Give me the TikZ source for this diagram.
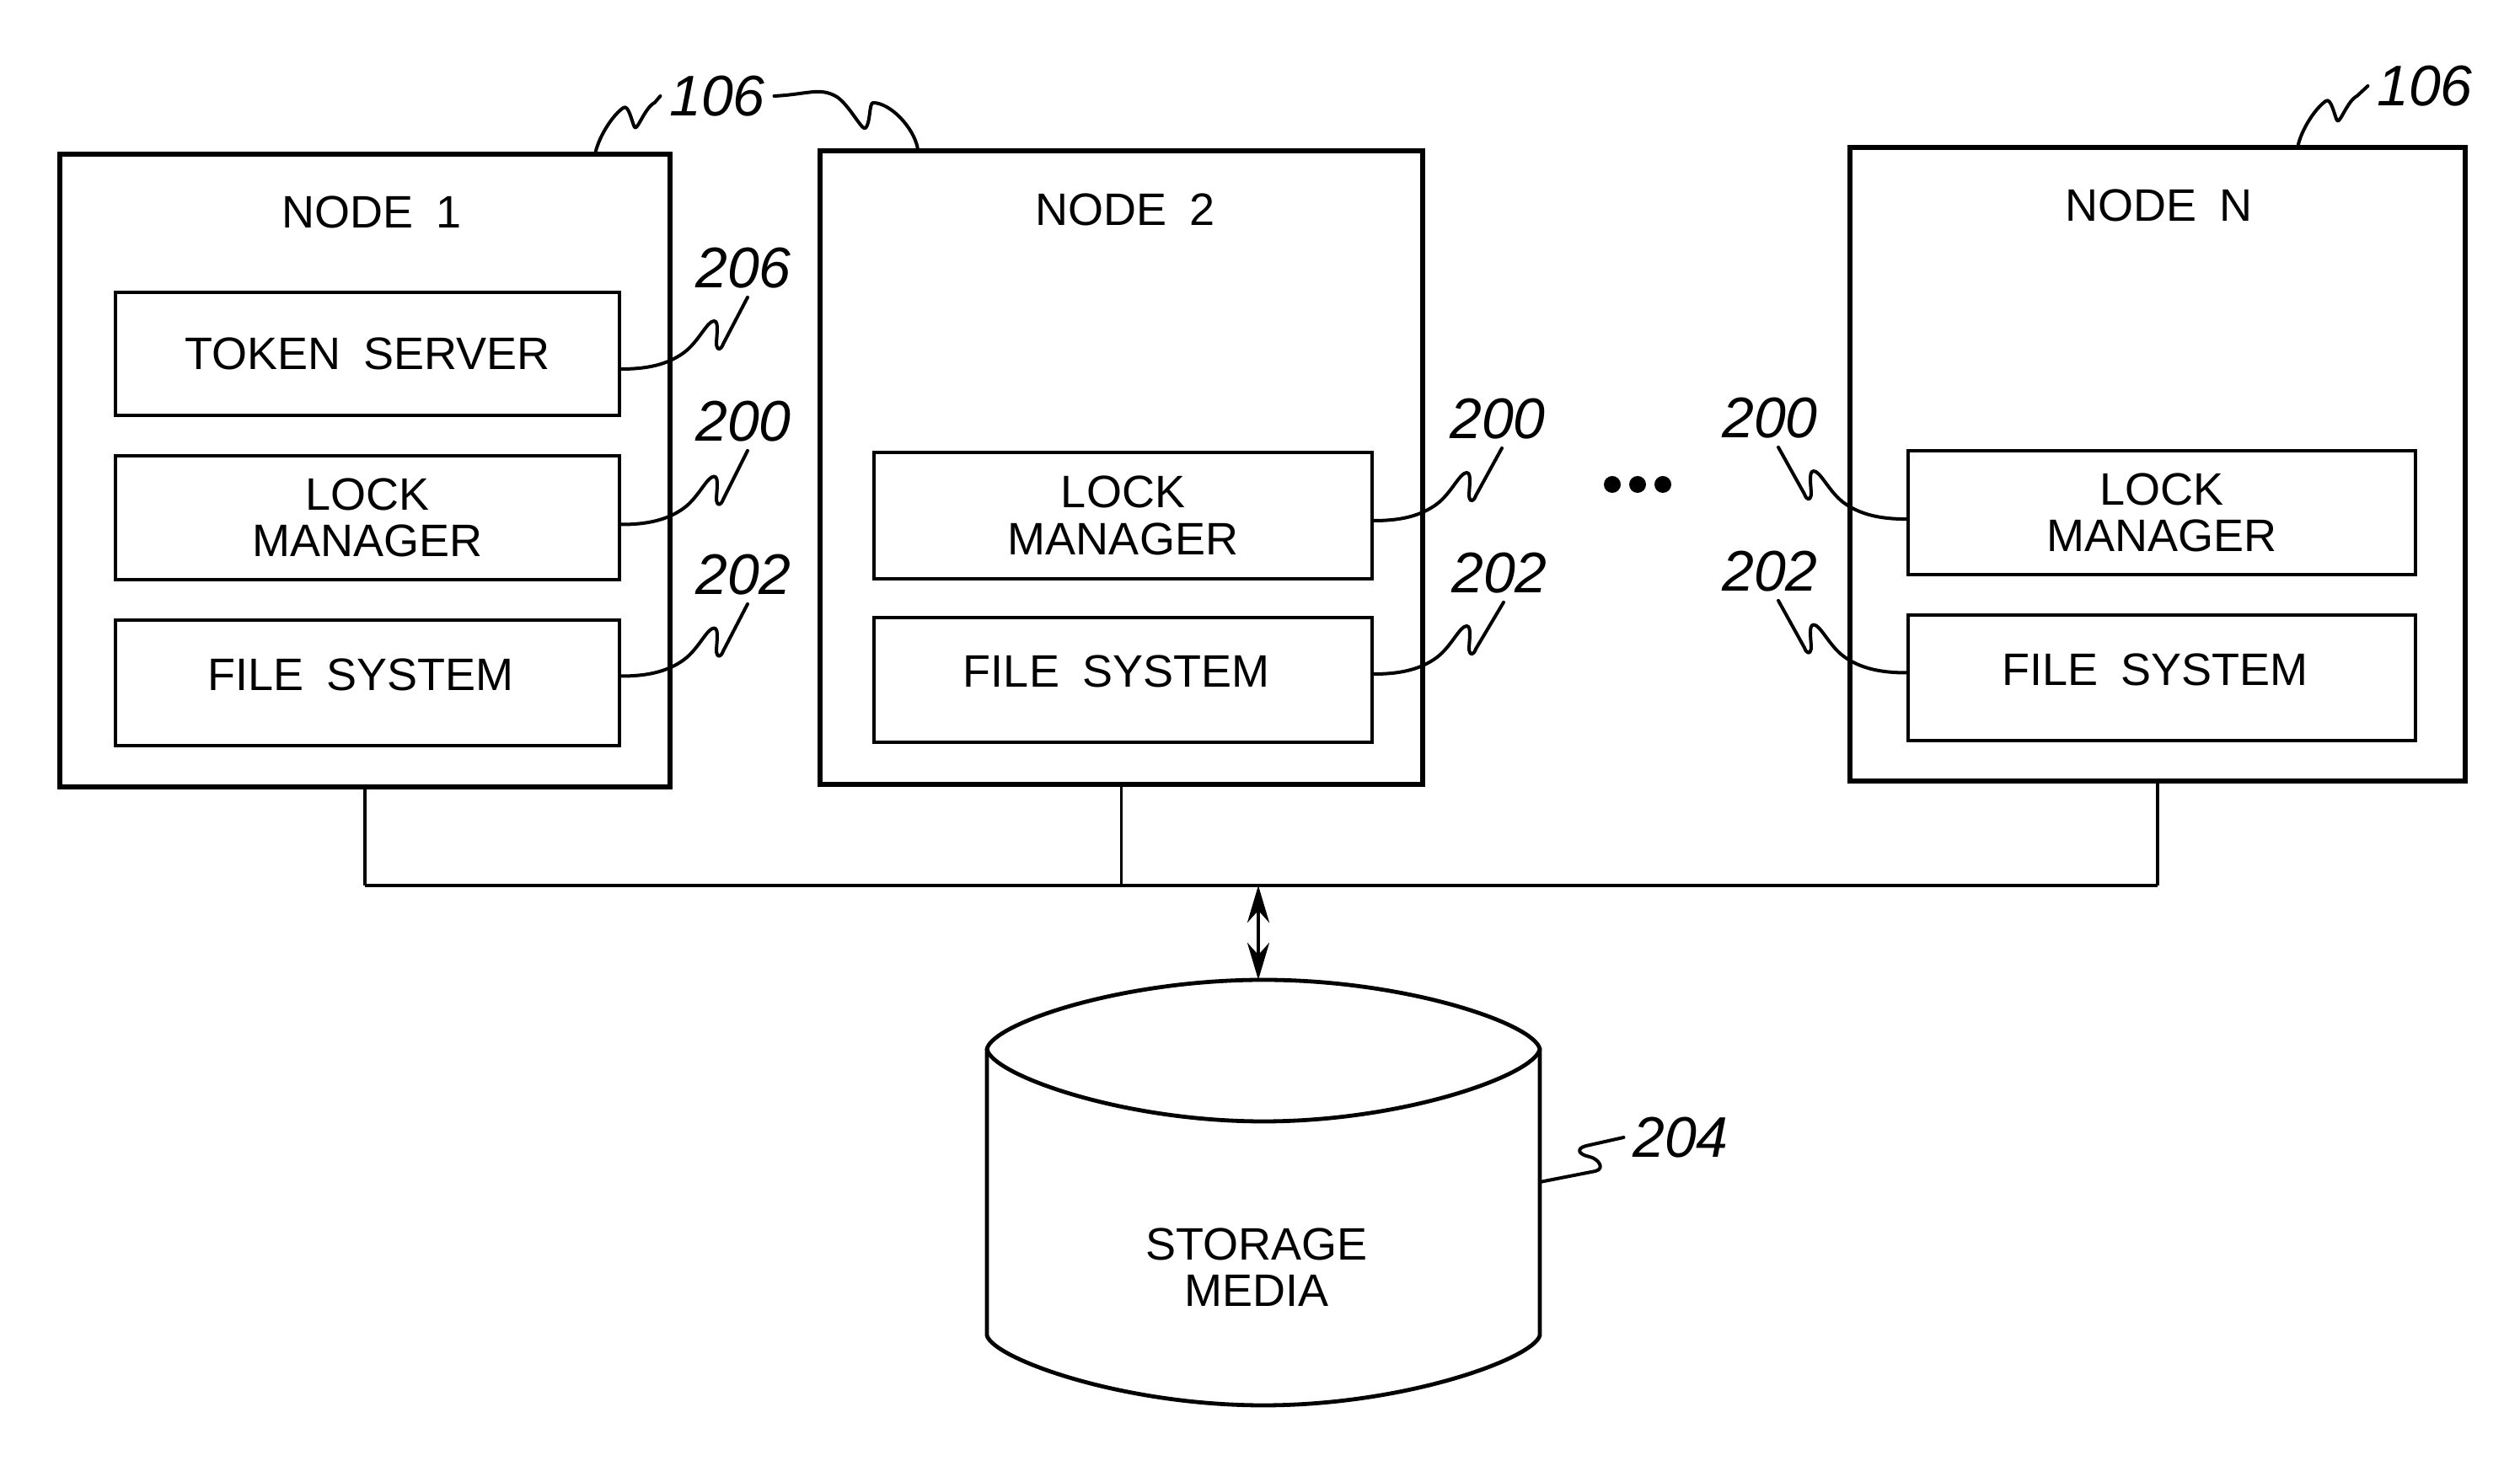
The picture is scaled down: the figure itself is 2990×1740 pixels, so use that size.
\documentclass[tikz,border=0pt]{standalone}
\usepackage{fontspec}
\setmainfont{Liberation Sans}
\usetikzlibrary{fit,calc,arrows.meta}
\newcommand\wsp{\hspace{0.5em}}
\newcommand\leadR[3]{\draw[leader] ([yshift=#2]#1) .. controls +(30,0) and +(-20,15) .. ++(75,-20) .. controls +(17,-13) and +(-8,0) .. ++(35,-37) .. controls +(7,0) and +(-1,-7) .. ++(3,29) .. controls +(1,6) and +(-3,8) .. ++(8,-2) -- ([xshift=1.25pt]#3.south);}
\newcommand\leadL[3]{\draw[leader] ([yshift=#2]#1) .. controls +(-30,0) and +(20,15) .. ++(-75,-20) .. controls +(-17,-13) and +(8,0) .. ++(-35,-37) .. controls +(-7,0) and +(1,-7) .. ++(-3,29) .. controls +(-1,6) and +(3,8) .. ++(-8,-2) -- ([xshift=2.5pt]#3.south);}
\newcommand\leadTop[2]{\draw[leader] (#1) .. controls +(5,-20) and +(-12,8) .. ++(33,-52) .. controls +(6,-4) and +(-3,-6) .. ++(13,23) .. controls +(3,6) and +(-12,6) .. ++(24,-29) -- (#2.west);}
\begin{document}
\begin{tikzpicture}[x=0.25pt,y=-0.25pt,
  nodebox/.style={draw, line width=1.6pt, inner sep=0pt},
  compbox/.style={draw, line width=1.1pt, inner sep=0pt},
  boxtext/.style={inner sep=0pt, align=center, font=\fontsize{13.5}{13.8}\selectfont},
  title/.style={font=\fontsize{13.5}{13.8}\selectfont, inner sep=0pt},
  num/.style={font=\fontsize{17}{17}\selectfont\itshape, inner sep=2.5pt},
  leader/.style={line width=1pt, line cap=round, line join=round},
  bus/.style={line width=1.2pt},
  drop/.style={line width=0.8pt},
  dotmark/.style={circle, fill, inner sep=0pt, minimum size=5pt},
  cyl/.style={line width=1.2pt, line join=round},
  biarrow/.style={line width=1.2pt, {Stealth[length=11pt,width=6.5pt]}-{Stealth[length=11pt,width=6.5pt]}}
]
\useasboundingbox (0,0) rectangle (2990,1740);

% node boxes
\node[nodebox, fit={(71,183) (795,934)}] (n1) {};
\node[nodebox, fit={(973,179) (1688,931)}] (n2) {};
\node[nodebox, fit={(2195,175) (2925,927)}] (nN) {};

% titles
\node[title] (t1) at (441,252) {NODE\wsp 1};
\node[title] (t2) at (1335,249) {NODE\wsp 2};
\node[title] (tN) at (2561,244) {NODE\wsp N};

% components
\node[compbox, fit={(137,347) (735,493)}] (tok) {};
\node[compbox, fit={(137,541) (735,688)}] (lm1) {};
\node[compbox, fit={(137,736) (735,885)}] (fs1) {};
\node[compbox, fit={(1037,537) (1628,687)}] (lm2) {};
\node[compbox, fit={(1037,733) (1628,881)}] (fs2) {};
\node[compbox, fit={(2264,535) (2866,682)}] (lmN) {};
\node[compbox, fit={(2264,730) (2866,879)}] (fsN) {};

\node[boxtext] (tokT) at (tok.center) {TOKEN\wsp SERVER};
\node[boxtext] (lm1T) at (lm1.center) {LOCK\\MANAGER};
\node[boxtext] (fs1T) at ([xshift=-2pt,yshift=2.5pt]fs1.center) {FILE\wsp SYSTEM};
\node[boxtext] (lm2T) at (lm2.center) {LOCK\\MANAGER};
\node[boxtext] (fs2T) at ([xshift=-2pt,yshift=2.5pt]fs2.center) {FILE\wsp SYSTEM};
\node[boxtext] (lmNT) at (lmN.center) {LOCK\\MANAGER};
\node[boxtext] (fsNT) at ([xshift=-2pt,yshift=2.5pt]fsN.center) {FILE\wsp SYSTEM};

% reference numerals
\node[num] (l106a) at (851,114) {106};
\node[num] (l106b) at (2877,102) {106};
\node[num] (l206) at (882,318) {206};
\node[num] (l200a) at (882,500) {200};
\node[num] (l202a) at (882,682) {202};
\node[num] (l200b) at (1777,497) {200};
\node[num] (l202b) at (1779,680) {202};
\node[num] (l200c) at (2100,496) {200};
\node[num] (l202c) at (2100,678) {202};
\node[num] (l204) at (1994,1350) {204};

% leaders
\leadR{tok.east}{-4.5pt}{l206}
\leadR{lm1.east}{-2pt}{l200a}
\leadR{fs1.east}{2pt}{l202a}
\leadR{lm2.east}{-1.5pt}{l200b}
\leadR{fs2.east}{1.75pt}{l202b}
\leadL{lmN.west}{-1.9pt}{l200c}
\leadL{fsN.west}{1.5pt}{l202c}
\leadTop{$(n1.north west)+(639,0)$}{l106a}
\leadTop{$(nN.north west)+(535,0)$}{l106b}
\draw[leader] (l106a.east) .. controls +(40,-2) and +(-20,-12) .. (993,115)
  .. controls +(15,10) and +(-4,4) .. (1027,152)
  .. controls +(6,-6) and +(-5,0) .. (1036,122)
  .. controls +(20,0) and +(-5,-25) .. ($(n2.north west)+(119,0)$);

% dots
\node[dotmark] (d1) at (1913,575) {};
\node[dotmark] (d2) at (1943,575) {};
\node[dotmark] (d3) at (1973,575) {};

% bus
\coordinate (busL) at (n1.south |- 0,1051);
\coordinate (busR) at (nN.south |- 0,1051);
\coordinate (busA) at (1493,1051);
\coordinate (cyltop) at (1493,1163);
\coordinate (cylR) at (1827,1403);
\draw[drop] (n1.south) -- (busL);
\draw[drop] (n2.south) -- (n2.south |- busL);
\draw[drop] (nN.south) -- (busR);
\draw[bus] (busL) -- (busR);
\draw[biarrow] (busA) -- (cyltop);

% storage cylinder
\draw[cyl] (1171,1245) .. controls (1178,1215) and (1330,1163) .. (1499,1163)
  .. controls (1668,1163) and (1820,1215) .. (1827,1245)
  .. controls (1822,1275) and (1668,1331) .. (1499,1331)
  .. controls (1330,1331) and (1176,1275) .. cycle;
\draw[cyl] (1171,1245) -- (1171,1585) .. controls (1178,1612) and (1330,1668) .. (1499,1668)
  .. controls (1668,1668) and (1820,1612) .. (1827,1585) -- (1827,1245);
\node[title, align=center] (store) at (1491,1504) {STORAGE\\MEDIA};
\draw[leader] (cylR) .. controls +(25,-5) and +(-15,3) .. (1893,1390)
  .. controls +(12,-3) and +(10,2) .. (1886,1373)
  .. controls +(-14,-3) and +(-12,3) .. (1882,1360) -- (l204.west);
\end{tikzpicture}
\end{document}
